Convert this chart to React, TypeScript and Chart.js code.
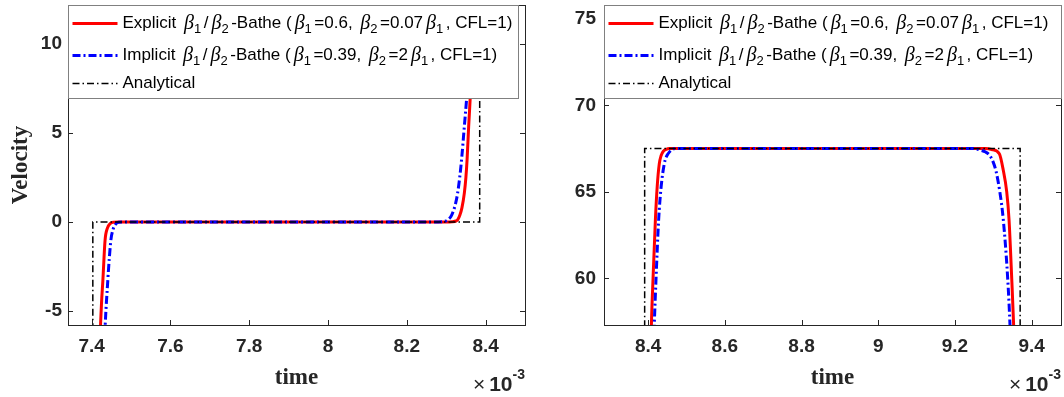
import React, { useEffect, useRef } from 'react';
import { Chart, registerables } from 'chart.js';
Chart.register(...registerables);

type Seg = { t: string; k: 'n' | 'g' | 's' };

// ---------------- data (time in units of 1e-3) ----------------
const leftXTicks = [7.4, 7.6, 7.8, 8.0, 8.2, 8.4];
const leftXTickLabels = ['7.4', '7.6', '7.8', '8', '8.2', '8.4'];
const leftYTicks = [-5, 0, 5, 10];
const leftYTickLabels = ['-5', '0', '5', '10'];

const rightXTicks = [8.4, 8.6, 8.8, 9.0, 9.2, 9.4];
const rightXTickLabels = ['8.4', '8.6', '8.8', '9', '9.2', '9.4'];
const rightYTicks = [60, 65, 70, 75];
const rightYTickLabels = ['60', '65', '70', '75'];

// left window
const leftExplicitT = [7.34, 7.38, 7.40, 7.41, 7.415, 7.42, 7.425, 7.4285, 7.434, 7.44, 7.447, 7.456, 7.47, 8.30, 8.315, 8.325, 8.329, 8.335, 8.34, 8.346, 8.35, 8.353, 8.357, 8.361, 8.37, 8.38, 8.40];
const leftExplicitV = [-67.5, -60, -38, -20, -12, -7.4, -4.6, -3.3, -1.05, -0.35, -0.1, -0.02, 0, 0, 0.01, 0.05, 0.11, 0.4, 0.8, 1.62, 2.5, 3.5, 5.37, 7.0, 11.5, 17, 35];
const leftImplicitT = [7.34, 7.38, 7.40, 7.415, 7.425, 7.43, 7.434, 7.441, 7.445, 7.449, 7.454, 7.46, 7.468, 7.48, 8.28, 8.29, 8.30, 8.306, 8.312, 8.318, 8.324, 8.329, 8.334, 8.339, 8.346, 8.352, 8.36, 8.38, 8.40];
const leftImplicitV = [-67.5, -62, -45, -24, -14, -8.5, -6.0, -3.3, -2.0, -1.0, -0.45, -0.15, -0.02, 0, 0, 0.01, 0.06, 0.15, 0.3, 0.6, 1.05, 1.62, 2.45, 3.5, 5.37, 6.98, 9.5, 17, 35];
const leftAnalyticalT = [7.34, 7.403, 7.403, 8.385, 8.385, 8.50];
const leftAnalyticalV = [-67.5, -67.5, 0, 0, 67.5, 67.5];

// right window
const rightExplicitT = [8.285, 8.30, 8.33, 8.36, 8.38, 8.395, 8.4086, 8.4129, 8.419, 8.4237, 8.429, 8.434, 8.44, 8.447, 8.455, 9.28, 9.2957, 9.3157, 9.326, 9.335, 9.341, 9.348, 9.353, 9.36, 9.38, 9.40, 9.42, 9.45, 9.4765];
const rightExplicitV = [0, 0, 0.45, 6.5, 22, 42, 57.3, 60, 63.4, 65.3, 66.6, 67.1, 67.35, 67.45, 67.5, 67.5, 67.45, 67.2, 66.25, 65, 63.4, 60, 57.3, 52, 30, 10, 2, 0.2, 0];
const rightImplicitT = [8.285, 8.31, 8.34, 8.355, 8.37, 8.39, 8.405, 8.416, 8.4207, 8.4275, 8.434, 8.442, 8.447, 8.452, 8.46, 8.47, 9.25, 9.265, 9.28, 9.291, 9.30, 9.307, 9.317, 9.326, 9.3375, 9.3435, 9.355, 9.37, 9.40, 9.43, 9.4765];
const rightImplicitV = [0, 0.25, 3.6, 8, 14, 35, 50, 57.3, 60, 63.4, 65.3, 66.6, 67.0, 67.2, 67.4, 67.5, 67.5, 67.42, 67.3, 67.1, 66.7, 66.2, 65, 63.4, 60, 57.3, 50, 35, 10, 2, 0];
const rightAnalyticalT = [8.285, 8.391, 8.391, 9.37, 9.37, 9.4765];
const rightAnalyticalV = [0, 0, 67.5, 67.5, 0, 0];

const seriesNames = [
  'Explicit β1/β2-Bathe (β1=0.6, β2=0.07β1, CFL=1)',
  'Implicit β1/β2-Bathe (β1=0.39, β2=2β1, CFL=1)',
  'Analytical',
];
const legendExplicit: Seg[] = [
  { t: 'Explicit ', k: 'n' }, { t: 'β', k: 'g' }, { t: '1', k: 's' }, { t: '/', k: 'n' }, { t: 'β', k: 'g' }, { t: '2', k: 's' },
  { t: '-Bathe (', k: 'n' }, { t: 'β', k: 'g' }, { t: '1', k: 's' }, { t: '=0.6, ', k: 'n' }, { t: 'β', k: 'g' }, { t: '2', k: 's' },
  { t: '=0.07', k: 'n' }, { t: 'β', k: 'g' }, { t: '1', k: 's' }, { t: ', CFL=1)', k: 'n' },
];
const legendImplicit: Seg[] = [
  { t: 'Implicit ', k: 'n' }, { t: 'β', k: 'g' }, { t: '1', k: 's' }, { t: '/', k: 'n' }, { t: 'β', k: 'g' }, { t: '2', k: 's' },
  { t: '-Bathe (', k: 'n' }, { t: 'β', k: 'g' }, { t: '1', k: 's' }, { t: '=0.39, ', k: 'n' }, { t: 'β', k: 'g' }, { t: '2', k: 's' },
  { t: '=2', k: 'n' }, { t: 'β', k: 'g' }, { t: '1', k: 's' }, { t: ', CFL=1)', k: 'n' },
];
const legendAnalytical: Seg[] = [{ t: 'Analytical', k: 'n' }];

const yAxisTitle = 'Velocity';
const xAxisTitle = 'time';

// ---------------- styling ----------------
const AXIS = '#262626';
const RED = '#ff0000';
const BLUE = '#0000ff';
const BLACK = '#000000';
const SANS = '"Liberation Sans", Arial, sans-serif';
const SERIF = '"Liberation Serif", "Times New Roman", serif';
const BLUE_DASH = [8, 3, 2, 3];
const BLACK_DASH = [7, 3, 1.5, 3];

function drawRich(ctx: CanvasRenderingContext2D, segs: Seg[], x: number, y: number) {
  ctx.textBaseline = 'middle';
  ctx.textAlign = 'left';
  for (const s of segs) {
    let yy = y;
    if (s.k === 'n') ctx.font = `17px ${SANS}`;
    else if (s.k === 'g') { ctx.font = `italic 20px ${SERIF}`; x += 3; }
    else { ctx.font = `13px ${SANS}`; yy = y + 6; }
    ctx.fillText(s.t, x, yy);
    x += ctx.measureText(s.t).width;
    if (s.k === 's') x += 2.5;
  }
}

function makeDecor(legendWidth: number) {
  return {
    id: 'decor',
    afterDraw(chart: any) {
      const ctx: CanvasRenderingContext2D = chart.ctx;
      const a = chart.chartArea;
      const xs = chart.scales.x;
      const ys = chart.scales.y;
      const TL = 5;
      ctx.save();
      ctx.strokeStyle = AXIS;
      ctx.lineWidth = 1;
      ctx.setLineDash([]);
      ctx.beginPath();
      for (const t of xs.ticks) {
        const px = Math.round(xs.getPixelForValue(t.value)) + 0.5;
        ctx.moveTo(px, a.bottom); ctx.lineTo(px, a.bottom - TL);
        ctx.moveTo(px, a.top); ctx.lineTo(px, a.top + TL);
      }
      for (const t of ys.ticks) {
        const py = Math.round(ys.getPixelForValue(t.value)) + 0.5;
        ctx.moveTo(a.left, py); ctx.lineTo(a.left + TL, py);
        ctx.moveTo(a.right, py); ctx.lineTo(a.right - TL, py);
      }
      ctx.stroke();
      ctx.strokeRect(Math.round(a.left) + 0.5, Math.round(a.top) + 0.5, Math.round(a.right - a.left), Math.round(a.bottom - a.top));

      // legend
      const lx = Math.round(a.left) + 0.5;
      const ly = Math.round(a.top) + 0.5;
      const lh = 93;
      ctx.fillStyle = '#ffffff';
      ctx.fillRect(lx, ly, legendWidth, lh);
      ctx.strokeStyle = '#808080';
      ctx.strokeRect(lx, ly, legendWidth, lh);
      const rows = [
        { y: ly + 18, color: RED, w: 3, dash: [] as number[], segs: legendExplicit },
        { y: ly + 50, color: BLUE, w: 3, dash: BLUE_DASH, segs: legendImplicit },
        { y: ly + 78, color: BLACK, w: 1.5, dash: BLACK_DASH, segs: legendAnalytical },
      ];
      for (const r of rows) {
        ctx.strokeStyle = r.color;
        ctx.lineWidth = r.w;
        ctx.setLineDash(r.dash);
        ctx.beginPath();
        ctx.moveTo(lx + 4, r.y);
        ctx.lineTo(lx + 49, r.y);
        ctx.stroke();
        ctx.setLineDash([]);
        ctx.fillStyle = '#000000';
        drawRich(ctx, r.segs, lx + 54, r.y);
      }

      // exponent label x10^-3
      ctx.fillStyle = AXIS;
      ctx.textBaseline = 'alphabetic';
      ctx.textAlign = 'left';
      ctx.font = `bold 14px ${SANS}`;
      const wExp = ctx.measureText('-3').width;
      ctx.font = `bold 21px ${SANS}`;
      const wTen = ctx.measureText('10').width;
      ctx.font = `21px ${SANS}`;
      const wTimes = ctx.measureText('×').width;
      let ex = a.right - wExp - wTen - wTimes - 4;
      ctx.fillText('×', ex, 391);
      ex += wTimes + 4;
      ctx.font = `bold 21px ${SANS}`;
      ctx.fillText('10', ex, 391);
      ex += wTen;
      ctx.font = `bold 14px ${SANS}`;
      ctx.fillText('-3', ex, 379);
      ctx.restore();
    },
  };
}

interface Cfg {
  xMin: number; xMax: number; yMin: number; yMax: number;
  xTicks: number[]; xLabels: string[]; yTicks: number[]; yLabels: string[];
  explicitT: number[]; explicitV: number[];
  implicitT: number[]; implicitV: number[];
  analyticalT: number[]; analyticalV: number[];
  yAxisWidth: number; padRight: number; legendWidth: number; showYTitle: boolean; yPad: number;
}

function pts(t: number[], v: number[]) {
  return t.map((x, i) => ({ x, y: v[i] }));
}

function noPad(s: any) {
  s.paddingTop = 0; s.paddingBottom = 0; s.paddingLeft = 0; s.paddingRight = 0;
}

function build(canvas: HTMLCanvasElement, c: Cfg) {
  return new Chart(canvas, {
    type: 'line',
    data: {
      datasets: [
        { label: seriesNames[0], data: pts(c.explicitT, c.explicitV), borderColor: RED, borderWidth: 3, pointRadius: 0, cubicInterpolationMode: 'monotone', clip: 0, order: 3 } as any,
        { label: seriesNames[1], data: pts(c.implicitT, c.implicitV), borderColor: BLUE, borderWidth: 3, borderDash: BLUE_DASH, pointRadius: 0, cubicInterpolationMode: 'monotone', clip: 0, order: 2 } as any,
        { label: seriesNames[2], data: pts(c.analyticalT, c.analyticalV), borderColor: BLACK, borderWidth: 1.5, borderDash: BLACK_DASH, pointRadius: 0, tension: 0, clip: 0, order: 1 } as any,
      ],
    },
    options: {
      responsive: false,
      maintainAspectRatio: false,
      animation: false,
      devicePixelRatio: 1,
      layout: { padding: { top: 5, right: c.padRight, bottom: 0, left: 0 } },
      plugins: { legend: { display: false }, tooltip: { enabled: false }, title: { display: false } },
      events: [],
      scales: {
        x: {
          type: 'linear', min: c.xMin, max: c.xMax,
          grid: { display: false, drawTicks: false },
          border: { display: false },
          afterBuildTicks: (s: any) => { s.ticks = c.xTicks.map((v) => ({ value: v })); },
          afterFit: (s: any) => { s.height = 72; noPad(s); },
          ticks: {
            callback: (_v: any, i: number) => c.xLabels[i],
            font: { family: SANS, size: 19, weight: 'bold' }, color: AXIS, padding: 10, maxRotation: 0, autoSkip: false,
          },
          title: { display: true, text: xAxisTitle, font: { family: SERIF, size: 23, weight: 'bold' }, color: AXIS, padding: { top: 0, bottom: 5 } },
        },
        y: {
          type: 'linear', min: c.yMin, max: c.yMax,
          grid: { display: false, drawTicks: false },
          border: { display: false },
          afterBuildTicks: (s: any) => { s.ticks = c.yTicks.map((v) => ({ value: v })); },
          afterFit: (s: any) => { s.width = c.yAxisWidth; noPad(s); },
          ticks: {
            callback: (_v: any, i: number) => c.yLabels[i],
            font: { family: SANS, size: 19, weight: 'bold' }, color: AXIS, padding: c.yPad, autoSkip: false,
          },
          title: { display: c.showYTitle, text: yAxisTitle, font: { family: SERIF, size: 23, weight: 'bold' }, color: AXIS, padding: { top: 7, bottom: 0 } },
        },
      },
    },
    plugins: [makeDecor(c.legendWidth)],
  } as any);
}

export default function App() {
  const leftRef = useRef<HTMLCanvasElement>(null);
  const rightRef = useRef<HTMLCanvasElement>(null);
  useEffect(() => {
    const l = build(leftRef.current!, {
      xMin: 7.34, xMax: 8.50, yMin: -5.8, yMax: 12.2,
      xTicks: leftXTicks, xLabels: leftXTickLabels, yTicks: leftYTicks, yLabels: leftYTickLabels,
      explicitT: leftExplicitT, explicitV: leftExplicitV,
      implicitT: leftImplicitT, implicitV: leftImplicitV,
      analyticalT: leftAnalyticalT, analyticalV: leftAnalyticalV,
      yAxisWidth: 68, padRight: 10, legendWidth: 450, showYTitle: true, yPad: 6,
    });
    const r = build(rightRef.current!, {
      xMin: 8.285, xMax: 9.4765, yMin: 57.3, yMax: 75.8,
      xTicks: rightXTicks, xLabels: rightXTickLabels, yTicks: rightYTicks, yLabels: rightYTickLabels,
      explicitT: rightExplicitT, explicitV: rightExplicitV,
      implicitT: rightImplicitT, implicitV: rightImplicitV,
      analyticalT: rightAnalyticalT, analyticalV: rightAnalyticalV,
      yAxisWidth: 69, padRight: 3, legendWidth: 457, showYTitle: false, yPad: 8,
    });
    return () => { l.destroy(); r.destroy(); };
  }, []);
  return (
    <div style={{ position: 'fixed', left: 0, top: 0, width: 1064, height: 397, background: '#ffffff' }}>
      <canvas ref={leftRef} width={535} height={397} style={{ position: 'absolute', left: 0, top: 0, width: 535, height: 397 }} />
      <canvas ref={rightRef} width={529} height={397} style={{ position: 'absolute', left: 535, top: 0, width: 529, height: 397 }} />
    </div>
  );
}
